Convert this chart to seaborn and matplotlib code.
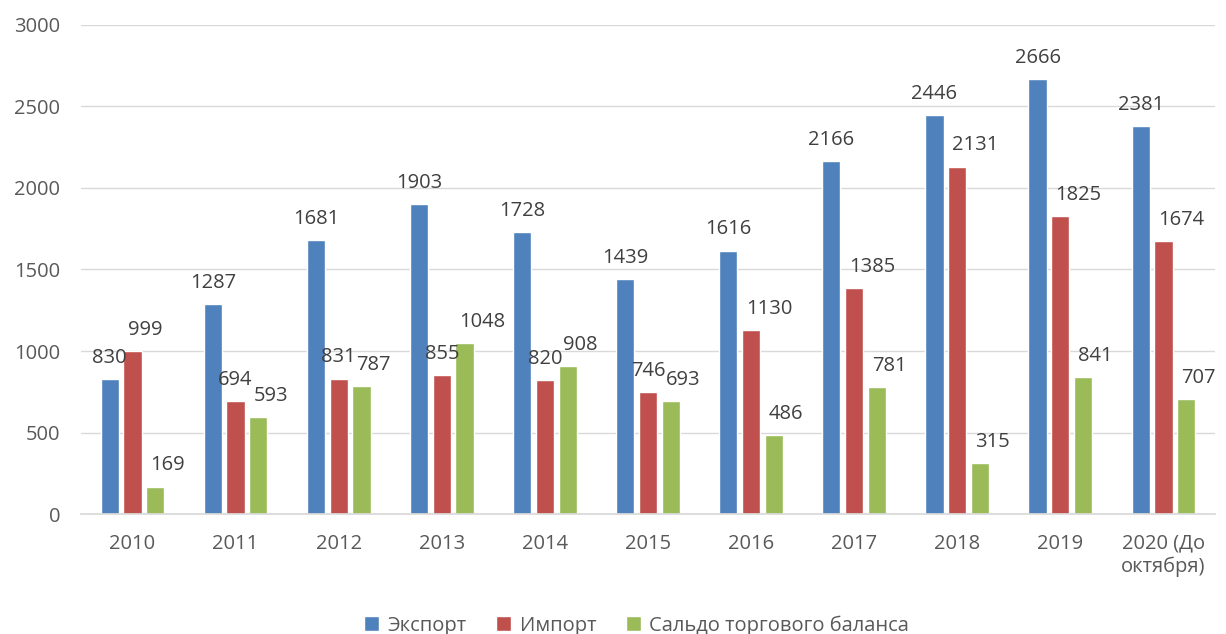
import numpy as np
import pandas as pd
import seaborn as sns
import matplotlib.pyplot as plt

years = ["2010", "2011", "2012", "2013", "2014", "2015", "2016", "2017",
         "2018", "2019", "2020 (До\nоктября)"]
series_names = ["Экспорт", "Импорт", "Сальдо торгового баланса"]
export_vals = [830, 1287, 1681, 1903, 1728, 1439, 1616, 2166, 2446, 2666, 2381]
import_vals = [999, 694, 831, 855, 820, 746, 1130, 1385, 2131, 1825, 1674]
saldo_vals = [169, 593, 787, 1048, 908, 693, 486, 781, 315, 841, 707]
colors = ["#4F81BD", "#C0504D", "#9BBB59"]

df = pd.DataFrame({
    "year": years * 3,
    "series": [n for n in series_names for _ in years],
    "value": export_vals + import_vals + saldo_vals,
})

sns.set_theme(style="white")
plt.rcParams["font.family"] = ["Open Sans", "DejaVu Sans"]

fig = plt.figure(figsize=(12.26, 6.34), dpi=100)
ax = fig.add_axes([0.066, 0.189, 0.925, 0.772])

sns.barplot(data=df, x="year", y="value", hue="series", order=years,
            hue_order=series_names, palette=colors, width=0.663, gap=0.2,
            saturation=1, ax=ax)

# labels: export centred, the others start near the bar's left edge
# (import centred when it would run into the balance label)
for k, cont in enumerate(ax.containers):
    for i, bar in enumerate(cont):
        h = bar.get_height()
        x0 = bar.get_x()
        w = bar.get_width()
        centred = k == 0 or (k == 1 and import_vals[i] - saldo_vals[i] < 120)
        if centred:
            ax.annotate(f"{h:.0f}", (x0 + w / 2, h), xytext=(0, 8),
                        textcoords="offset points", ha="center", va="bottom",
                        fontsize=14.5, color="#404040")
        else:
            ax.annotate(f"{h:.0f}", (x0, h), xytext=(3, 8),
                        textcoords="offset points", ha="left", va="bottom",
                        fontsize=14.5, color="#404040")

ax.set_ylim(0, 3000)
ax.set_yticks(np.arange(0, 3001, 500))
ax.set_xlim(-0.5, len(years) - 0.5)
ax.yaxis.grid(True, color="#D9D9D9", linewidth=1)
ax.set_axisbelow(True)
for s in ["left", "right", "top"]:
    ax.spines[s].set_visible(False)
ax.spines["bottom"].set_color("#D9D9D9")
ax.tick_params(axis="both", labelsize=14.5, colors="#595959", length=0)
ax.tick_params(axis="x", pad=14)
ax.tick_params(axis="y", pad=15)
ax.set_xlabel("")
ax.set_ylabel("")

ax.legend(loc="lower center", bbox_to_anchor=(0.49, -0.285), ncol=3,
          frameon=False, fontsize=14.5, handlelength=0.75, handleheight=0.75,
          handletextpad=0.4, columnspacing=1.5, labelcolor="#595959")

fig.savefig("out.png", dpi=100)
